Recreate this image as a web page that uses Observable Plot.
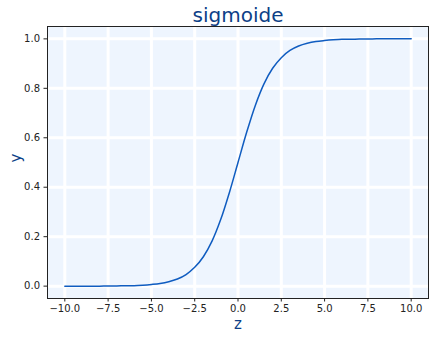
<!DOCTYPE html>
<html>
<head>
<meta charset="utf-8">
<script src="https://cdn.jsdelivr.net/npm/d3@7"></script>
<script src="https://cdn.jsdelivr.net/npm/@observablehq/plot@0.6"></script>
<style>
  html, body { margin: 0; padding: 0; background: #fff; }
  #chart svg { display: block; }
</style>
</head>
<body>
<div id="chart"></div>
<script>
const title = "sigmoide";
const xLabel = "z";
const yLabel = "y";
const xTicks = [-10, -7.5, -5, -2.5, 0, 2.5, 5, 7.5, 10];
const yTicks = [0, 0.2, 0.4, 0.6, 0.8, 1.0];
const zValues = [-10, -9.5, -9, -8.5, -8, -7.5, -7, -6.5, -6, -5.5, -5, -4.5, -4, -3.5, -3, -2.5, -2, -1.5, -1, -0.5,
                 0, 0.5, 1, 1.5, 2, 2.5, 3, 3.5, 4, 4.5, 5, 5.5, 6, 6.5, 7, 7.5, 8, 8.5, 9, 9.5, 10];
const yValues = [0.000, 0.000, 0.000, 0.000, 0.000, 0.001, 0.001, 0.002, 0.002, 0.004, 0.007, 0.011, 0.018, 0.029, 0.047, 0.076, 0.119, 0.182, 0.269, 0.378,
                 0.500, 0.622, 0.731, 0.818, 0.881, 0.924, 0.953, 0.971, 0.982, 0.989, 0.993, 0.996, 0.998, 0.998, 0.999, 0.999, 1.000, 1.000, 1.000, 1.000, 1.000];

const data = zValues.map((z, i) => ({z, y: yValues[i]}));
const fmt = d => d.toFixed(1).replace("-", "\u2212");
const labelColor = "#0d3f87";

const chart = Plot.plot({
  width: 434,
  height: 339,
  marginTop: 26,
  marginBottom: 41,
  marginLeft: 47,
  marginRight: 6,
  style: {fontFamily: "DejaVu Sans", fontSize: "10px", color: "#222", background: "#fff"},
  x: {domain: [-11, 11], label: null},
  y: {domain: [-0.05, 1.05], label: null},
  marks: [
    Plot.frame({fill: "#eef5fe", stroke: "none"}),
    Plot.ruleX(xTicks, {stroke: "#fff", strokeWidth: 3}),
    Plot.ruleY(yTicks, {stroke: "#fff", strokeWidth: 3}),
    Plot.line(data, {x: "z", y: "y", stroke: "#0f5cc0", strokeWidth: 1.5, curve: "catmull-rom"}),
    Plot.frame({stroke: "#222", strokeWidth: 1}),
    Plot.axisX(xTicks, {tickFormat: fmt, tickSize: 3.5, tickPadding: 3, label: null, fontSize: 10}),
    Plot.axisY(yTicks, {tickFormat: fmt, tickSize: 3.5, tickPadding: 4, label: null, fontSize: 10}),
    Plot.text([title], {frameAnchor: "top", dy: -11, fontSize: 20, fill: labelColor, lineAnchor: "middle"}),
    Plot.text([xLabel], {frameAnchor: "bottom", dy: 26, fontSize: 15, fill: labelColor, lineAnchor: "middle"}),
    Plot.text([yLabel], {frameAnchor: "left", dx: -31, rotate: -90, fontSize: 15, fill: labelColor, lineAnchor: "middle"})
  ]
});
document.getElementById("chart").appendChild(chart);
</script>
</body>
</html>
